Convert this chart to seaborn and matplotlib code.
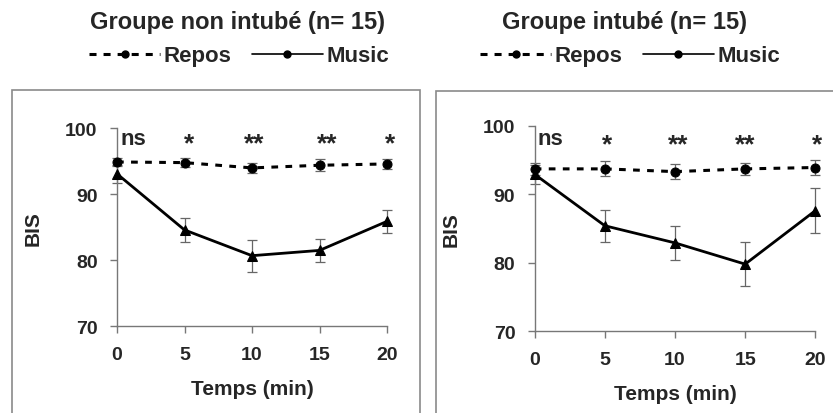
import numpy as np
import pandas as pd
import matplotlib
matplotlib.use("Agg")
import matplotlib.pyplot as plt
from matplotlib.lines import Line2D
from matplotlib.patches import Rectangle
import seaborn as sns

sns.set_theme(style="white")
plt.rcParams['font.family'] = ['Liberation Sans', 'DejaVu Sans']

time = [0, 5, 10, 15, 20]
titles = ["Groupe non intubé (n= 15)", "Groupe intubé (n= 15)"]
signif = ["ns", "*", "**", "**", "*"]

repos_non = [94.9, 94.8, 94.0, 94.4, 94.6]
repos_non_err = [0.6, 0.7, 0.8, 0.9, 0.75]
music_non = [93.1, 84.6, 80.7, 81.5, 85.9]
music_non_err = [1.4, 1.8, 2.4, 1.7, 1.7]

repos_int = [93.7, 93.7, 93.3, 93.7, 93.9]
repos_int_err = [0.9, 1.1, 1.1, 0.9, 1.05]
music_int = [92.9, 85.4, 82.9, 79.8, 87.6]
music_int_err = [1.4, 2.3, 2.5, 3.2, 3.3]

fig = plt.figure(figsize=(8.33, 4.14), dpi=100)

# panel frames
fig.patches.append(Rectangle((12/833, -0.05), (420-12)/833, 1 - 91/414 + 0.05,
                             transform=fig.transFigure, fill=False, ec="#8a8a8a", lw=1.2))
fig.patches.append(Rectangle((436/833, -0.05), (840-436)/833, 1 - 92/414 + 0.05,
                             transform=fig.transFigure, fill=False, ec="#8a8a8a", lw=1.2))

positions = [[117/833, 1-327.3/414, 270/833, 198/414],
             [534.7/833, 1-332.3/414, 280.6/833, 205.6/414]]
datasets = [(repos_non, repos_non_err, music_non, music_non_err),
            (repos_int, repos_int_err, music_int, music_int_err)]
title_x = [237/833, 625/833]
legend_x = [239/833, 630/833]
sig_dx = [[1.2, 0.35, 0.2, 0.6, 0.2], [1.1, 0.17, 0.26, -0.03, 0.15]]
ns_y = [97.6, 97.3]
star_y = [96.6, 96.3]

for i in range(2):
    ax = fig.add_axes(positions[i])
    r, re, m, me = datasets[i]
    df = pd.DataFrame({"t": time, "repos": r, "music": m})
    ax.errorbar(time, r, yerr=re, fmt="none", ecolor="#666666", elinewidth=0.9,
                capsize=3.5, capthick=0.9, clip_on=False, zorder=2)
    ax.errorbar(time, m, yerr=me, fmt="none", ecolor="#666666", elinewidth=0.9,
                capsize=3.5, capthick=0.9, clip_on=False, zorder=2)
    sns.lineplot(data=df, x="t", y="repos", ax=ax, color="black", lw=2.2,
                 linestyle=(0, (2.2, 2.4)), marker="o", markersize=6.5,
                 markeredgecolor="black", clip_on=False, zorder=3)
    sns.lineplot(data=df, x="t", y="music", ax=ax, color="black", lw=2.0,
                 marker="^", markersize=7, markeredgecolor="black",
                 clip_on=False, zorder=3)
    ax.set_xlim(0, 20)
    ax.set_ylim(70, 100)
    ax.set_xticks(time)
    ax.set_yticks([70, 80, 90, 100])
    for s in ["top", "right"]:
        ax.spines[s].set_visible(False)
    for s in ["left", "bottom"]:
        ax.spines[s].set_color("#777777")
        ax.spines[s].set_linewidth(1.0)
    ax.tick_params(axis="both", direction="out", length=5, width=1.0, color="#777777",
                   labelsize=14, pad=9, bottom=True, left=True)
    for lab in ax.get_xticklabels() + ax.get_yticklabels():
        lab.set_fontweight("bold")
    ax.set_xlabel("Temps (min)", fontsize=15, fontweight="bold", labelpad=12)
    ax.set_ylabel("BIS", fontsize=15, fontweight="bold", labelpad=16)
    ax.patch.set_alpha(0)
    for t, s, dx in zip(time, signif, sig_dx[i]):
        if s == "ns":
            ax.text(t + dx, ns_y[i], s, ha="center", va="baseline",
                    fontsize=16, fontweight="bold")
        else:
            ax.text(t + dx, star_y[i], s, ha="center", va="baseline",
                    fontsize=19, fontweight="bold")
    fig.text(title_x[i], 1 - 23/414, titles[i], ha="center", va="center",
             fontsize=17, fontweight="bold")
    handles = [Line2D([], [], color="black", lw=2.2, linestyle=(0, (2.3, 2.3)), marker="o", markersize=5),
               Line2D([], [], color="black", lw=1.2, marker="o", markersize=5)]
    fig.legend(handles, ["Repos", "Music"], loc="center", ncol=2,
               bbox_to_anchor=(legend_x[i], 1 - 57/414), frameon=False,
               prop={"weight": "bold", "size": 16}, handlelength=3.2,
               handletextpad=0.15, columnspacing=0.9)

fig.savefig("out.png", dpi=100)
